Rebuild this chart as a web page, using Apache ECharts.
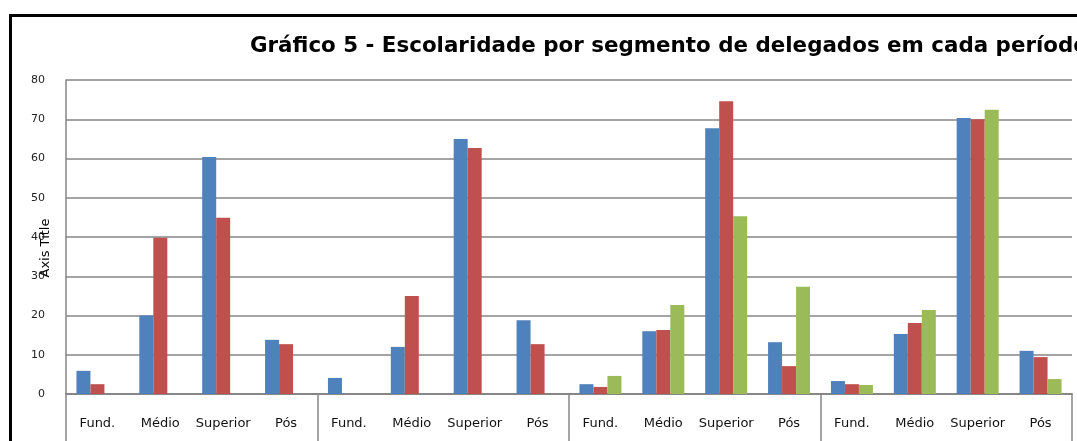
<!DOCTYPE html>
<html>
<head>
<meta charset="utf-8">
<script src="https://cdn.jsdelivr.net/npm/echarts@6/dist/echarts.min.js"></script>
<style>
html,body{margin:0;padding:0;background:#fff;}
#c{width:1077px;height:441px;}
</style>
</head>
<body>
<div id="c"></div>
<script>
const titleText = 'Gráfico 5 - Escolaridade por segmento de delegados em cada período';
const periods = ['P1', 'P2', 'P3', 'P4'];
const levels = ['Fund.', 'Médio', 'Superior', 'Pós'];
const categories = [].concat(levels, levels, levels, levels);
const yTicks = [0, 10, 20, 30, 40, 50, 60, 70, 80];
const seriesBlue  = [5.9, 20.0, 60.4, 13.8,  4.1, 12.0, 65.0, 18.8,  2.5, 16.0, 67.7, 13.2,  3.3, 15.3, 70.3, 11.0];
const seriesRed   = [2.5, 39.8, 44.9, 12.7,  null, 25.0, 62.7, 12.7,  1.8, 16.3, 74.6, 7.1,  2.5, 18.1, 70.0, 9.4];
const seriesGreen = [null, null, null, null,  null, null, null, null,  4.6, 22.7, 45.3, 27.3,  2.3, 21.4, 72.4, 3.8];

const chart = echarts.init(document.getElementById('c'), null, {renderer: 'canvas'});
const barW = 14;
chart.setOption({
  animation: false,
  backgroundColor: '#fff',
  title: {
    text: titleText,
    left: 245,
    top: 31,
    textStyle: {fontFamily: 'DejaVu Sans', fontWeight: 'bold', fontSize: 21.4, color: '#000'}
  },
  graphic: [{
    type: 'rect',
    shape: {x: 10.5, y: 15.5, width: 1200, height: 600},
    style: {fill: 'none', stroke: '#000', lineWidth: 3},
    silent: true, z: 100
  }],
  grid: {left: 66, right: 5, top: 80, bottom: 47, containLabel: false},
  xAxis: [{
    type: 'category',
    data: categories,
    position: 'bottom',
    axisLine: {show: true, lineStyle: {color: '#868686', width: 2}},
    axisTick: {show: false},
    axisLabel: {interval: 0, margin: 23, fontFamily: 'DejaVu Sans', fontSize: 13, color: '#111'}
  }, {
    type: 'category',
    data: periods,
    position: 'bottom',
    axisLine: {show: false},
    axisTick: {show: true, length: 60, lineStyle: {color: '#868686', width: 1.5}},
    axisLabel: {show: false}
  }],
  yAxis: {
    type: 'value',
    min: 0, max: 80, interval: 10,
    name: 'Axis Title',
    nameLocation: 'middle',
    nameGap: 14,
    nameMoveOverlap: false,
    nameTextStyle: {fontFamily: 'DejaVu Sans', fontSize: 13, color: '#000', padding: [0, 22, 0, 0]},
    axisLine: {show: true, lineStyle: {color: '#868686', width: 1.5}},
    axisTick: {show: false},
    axisLabel: {margin: 21, fontFamily: 'DejaVu Sans', fontSize: 11, color: '#222',
      formatter: v => yTicks.indexOf(v) >= 0 ? String(v) : ''},
    splitLine: {show: true, lineStyle: {color: '#868686', width: 1.5}}
  },
  series: [
    {type: 'bar', data: seriesBlue, barWidth: barW, barGap: '0%', itemStyle: {color: '#4F81BD'}},
    {type: 'bar', data: seriesRed, barWidth: barW, barGap: '0%', itemStyle: {color: '#C0504D'}},
    {type: 'bar', data: seriesGreen, barWidth: barW, barGap: '0%', itemStyle: {color: '#9BBB59'}}
  ]
});
</script>
</body>
</html>
